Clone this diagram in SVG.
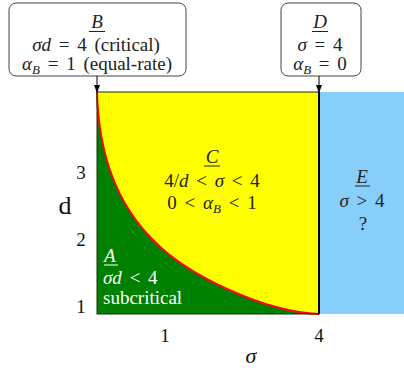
<svg xmlns="http://www.w3.org/2000/svg" id="fig" width="404" height="371" viewBox="0 0 404 371">
<style>
#fig text, #fig tspan{font-family:"Liberation Serif",serif}
#fig text{font-size:19px;text-anchor:middle;fill:#222}
#fig text.m{word-spacing:3px}
#fig .it{font-style:italic}
.box{fill:#fff;stroke:#444;stroke-width:1}
.ul{stroke:#222;stroke-width:1}
#fig text.w{fill:#fff;text-anchor:start}
#fig text.lbl{fill:#111;font-size:19px}
#fig tspan.sub{font-size:13px}
</style>
<defs>
<marker id="ah" viewBox="0 0 8 8" refX="7" refY="4" markerWidth="8" markerHeight="8" orient="auto" markerUnits="userSpaceOnUse">
<path d="M0,1 L8,4 L0,7 Z" fill="#000"/>
</marker>
</defs>
<g id="regions">
<rect x="319" y="92" width="85" height="222" fill="#87cefa"/>
<rect x="97" y="92" width="222" height="222" fill="#008000"/>
<path d="M97,92 C99,180 135,222 153,240 C187.5,276 265,312 319,314 L319,92 Z" fill="#ffff00"/>
<path d="M97,92 C99,180 135,222 153,240 C187.5,276 265,312 319,314" fill="none" stroke="#ff0000" stroke-width="2"/>
<rect x="97" y="92" width="222" height="222" fill="none" stroke="#1a3300" stroke-width="1"/>
<line x1="319" y1="92" x2="319" y2="314" stroke="#000" stroke-width="2"/>
</g>
<g id="A">
<text x="104" y="262" class="it w">A</text>
<line x1="104" y1="265" x2="118" y2="265" stroke="#fff" stroke-width="1"/>
<text x="103" y="284" class="w m"><tspan class="it">σd</tspan> &lt; 4</text>
<text x="103" y="304" class="w">subcritical</text>
</g>
<g id="C">
<text x="212" y="163" class="it">C</text>
<line x1="204" y1="166" x2="220" y2="166" class="ul"/>
<text x="212" y="187" class="m">4/<tspan class="it">d</tspan> &lt; <tspan class="it">σ</tspan> &lt; 4</text>
<text x="212" y="209" class="m">0 &lt; <tspan class="it">α</tspan><tspan class="it sub" dy="4">B</tspan><tspan dy="-4"> &lt; 1</tspan></text>
</g>
<g id="E">
<text x="362" y="183" class="it">E</text>
<line x1="355" y1="186" x2="370" y2="186" class="ul"/>
<text x="362" y="207" class="m"><tspan class="it">σ</tspan> &gt; 4</text>
<text x="363" y="230">?</text>
</g>
<g id="B">
<rect x="9" y="3" width="177" height="73" rx="7" class="box"/>
<text x="97" y="28" class="it">B</text>
<line x1="89" y1="31.5" x2="105" y2="31.5" class="ul"/>
<text x="96" y="51" class="m"><tspan class="it">σd</tspan> = 4 (critical)</text>
<text x="97" y="70" class="m"><tspan class="it">α</tspan><tspan class="it sub" dy="4">B</tspan><tspan dy="-4"> = 1 (equal-rate)</tspan></text>
</g>
<g id="D">
<rect x="281" y="3" width="80" height="73" rx="7" class="box"/>
<text x="320" y="28" class="it">D</text>
<line x1="312" y1="31.5" x2="328" y2="31.5" class="ul"/>
<text x="320" y="51" class="m"><tspan class="it">σ</tspan> = 4</text>
<text x="320" y="70" class="m"><tspan class="it">α</tspan><tspan class="it sub" dy="4">B</tspan><tspan dy="-4"> = 0</tspan></text>
</g>
<g id="connectors">
<line x1="97" y1="76" x2="97" y2="92" stroke="#000" stroke-width="1" marker-end="url(#ah)"/>
<line x1="319" y1="76" x2="319" y2="92" stroke="#000" stroke-width="1" marker-end="url(#ah)"/>
</g>
<g id="axes">
<text x="81" y="179" class="lbl">3</text>
<text x="81" y="246" class="lbl">2</text>
<text x="81" y="313" class="lbl">1</text>
<text x="65" y="214" class="lbl" style="font-size:26px">d</text>
<text x="165" y="342" class="lbl">1</text>
<text x="319" y="342" class="lbl">4</text>
<text x="251" y="363" class="it lbl" style="font-size:22px">σ</text>
</g>
</svg>
